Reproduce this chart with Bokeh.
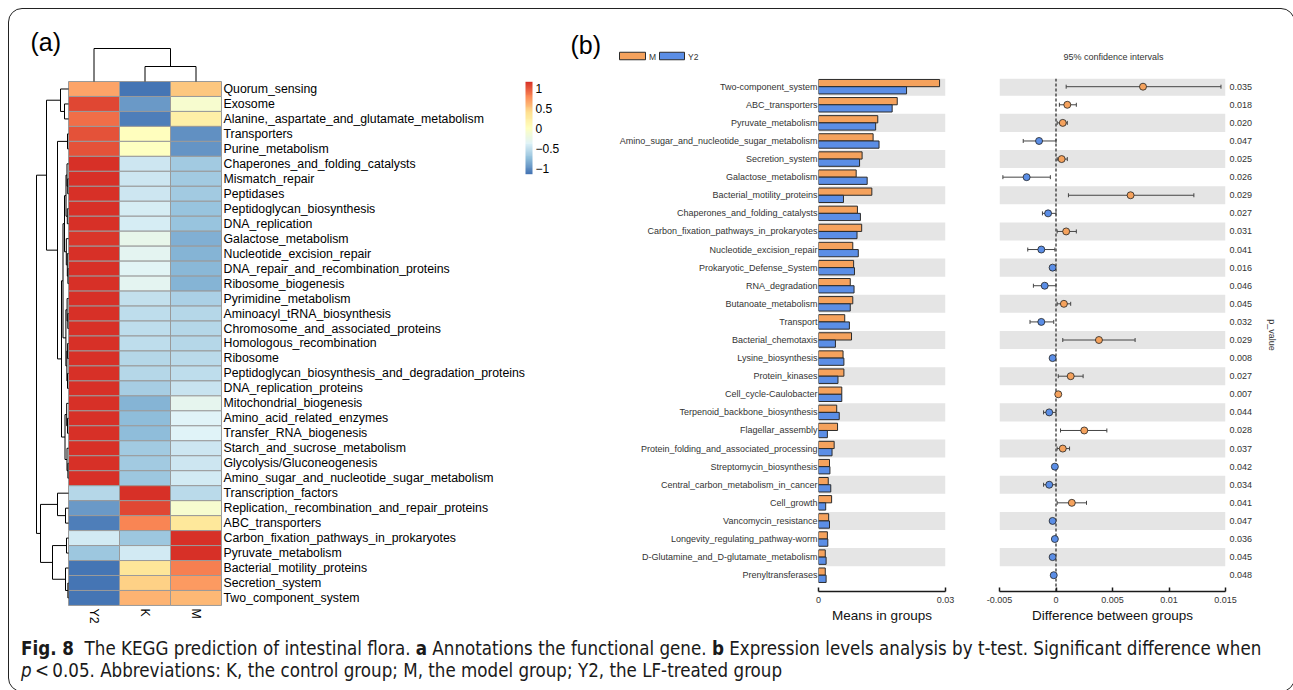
import numpy as np
from bokeh.plotting import figure
from bokeh.models import (Range1d, ColumnDataSource, LinearColorMapper, FixedTicker,
                          NumeralTickFormatter, LinearAxis, Span, Whisker, TeeHead, Div)
from bokeh.transform import dodge
from bokeh.layouts import row, column
from bokeh.core.properties import value
from bokeh.embed import file_html
from bokeh.resources import INLINE

FONT = "Liberation Sans"

# ---------------- panel (a): heatmap data ----------------
heat_rows = ["Quorum_sensing", "Exosome", "Alanine,_aspartate_and_glutamate_metabolism", "Transporters",
             "Purine_metabolism", "Chaperones_and_folding_catalysts", "Mismatch_repair", "Peptidases",
             "Peptidoglycan_biosynthesis", "DNA_replication", "Galactose_metabolism",
             "Nucleotide_excision_repair", "DNA_repair_and_recombination_proteins", "Ribosome_biogenesis",
             "Pyrimidine_metabolism", "Aminoacyl_tRNA_biosynthesis", "Chromosome_and_associated_proteins",
             "Homologous_recombination", "Ribosome", "Peptidoglycan_biosynthesis_and_degradation_proteins",
             "DNA_replication_proteins", "Mitochondrial_biogenesis", "Amino_acid_related_enzymes",
             "Transfer_RNA_biogenesis", "Starch_and_sucrose_metabolism", "Glycolysis/Gluconeogenesis",
             "Amino_sugar_and_nucleotide_sugar_metabolism", "Transcription_factors",
             "Replication,_recombination_and_repair_proteins", "ABC_transporters",
             "Carbon_fixation_pathways_in_prokaryotes", "Pyruvate_metabolism", "Bacterial_motility_proteins",
             "Secretion_system", "Two_component_system"]
heat_cols = ["Y2", "K", "M"]
z_y2 = [0.65, 1.05, 0.90, 1.00, 1.00, 1.15, 1.15, 1.15, 1.15, 1.14, 1.12, 1.15, 1.15, 1.15, 1.15, 1.15,
        1.15, 1.15, 1.15, 1.15, 1.15, 1.14, 1.15, 1.15, 1.15, 1.15, 1.15, -0.58, -0.95, -1.10, -0.45,
        -0.70, -1.15, -1.15, -1.15]
z_k = [-1.15, -0.95, -1.10, 0.00, -0.02, -0.48, -0.48, -0.48, -0.42, -0.42, -0.28, -0.33, -0.35, -0.34,
       -0.52, -0.55, -0.55, -0.55, -0.58, -0.60, -0.66, -0.82, -0.78, -0.77, -0.68, -0.68, -0.70, 1.15,
       1.05, 0.80, -0.70, -0.45, 0.32, 0.45, 0.58]
z_m = [0.50, -0.10, 0.20, -1.00, -0.98, -0.67, -0.67, -0.67, -0.73, -0.72, -0.84, -0.82, -0.80, -0.81,
       -0.63, -0.60, -0.60, -0.60, -0.57, -0.55, -0.49, -0.32, -0.37, -0.38, -0.47, -0.47, -0.45, -0.57,
       -0.10, 0.30, 1.15, 1.15, 0.83, 0.70, 0.57]
colorbar_ticks = [-1, -0.5, 0, 0.5, 1]
colorbar_labels = ["\u22121", "\u22120.5", "0", "0.5", "1"]

# clustering trees: (merge height, left, right); leaves are row / column indices
row_tree = (32,
            (22, (8, 0, (4, 1, 2)),
                 (11, (1.0, 3, 4),
                      (7, (5.5, (4.0, (2.5, (1.5, 5, (0.8, 6, 7)), (1.2, 8, 9)),
                                      (2.2, 10, (1.2, 11, (0.6, 12, 13)))),
                                (2.6, (1.4, 14, (0.7, 15, 16)), (1.6, (0.9, 17, 18), (1.0, 19, 20)))),
                          (3.5, (1.8, 21, (1.0, 22, 23)), (1.5, 24, (0.6, 25, 26)))))),
            (28, (11, 27, (3, 28, 29)),
                 (16, (2, 30, 31), (3, 32, (0.6, 33, 34)))))
col_tree = (33, 0, (15, 1, 2))

# ---------------- panel (b): t-test data ----------------
pathways = ["Two-component_system", "ABC_transporters", "Pyruvate_metabolism",
            "Amino_sugar_and_nucleotide_sugar_metabolism", "Secretion_system", "Galactose_metabolism",
            "Bacterial_motility_proteins", "Chaperones_and_folding_catalysts",
            "Carbon_fixation_pathways_in_prokaryotes", "Nucleotide_excision_repair",
            "Prokaryotic_Defense_System", "RNA_degradation", "Butanoate_metabolism", "Transport",
            "Bacterial_chemotaxis", "Lysine_biosynthesis", "Protein_kinases", "Cell_cycle-Caulobacter",
            "Terpenoid_backbone_biosynthesis", "Flagellar_assembly", "Protein_folding_and_associated_processing",
            "Streptomycin_biosynthesis", "Central_carbon_metabolism_in_cancer", "Cell_growth",
            "Vancomycin_resistance", "Longevity_regulating_pathway-worm", "D-Glutamine_and_D-glutamate_metabolism",
            "Prenyltransferases"]
mean_m = [0.0286, 0.0186, 0.0140, 0.0129, 0.0103, 0.0089, 0.0126, 0.0092, 0.0102, 0.0081, 0.0083, 0.0075,
          0.0081, 0.0062, 0.0078, 0.0058, 0.0060, 0.0055, 0.0043, 0.0045, 0.0037, 0.0026, 0.0023, 0.0031,
          0.0024, 0.0021, 0.0016, 0.0016]
mean_y2 = [0.0208, 0.0174, 0.0135, 0.0143, 0.0097, 0.0115, 0.0059, 0.0099, 0.0091, 0.0094, 0.0085, 0.0084,
           0.0075, 0.0073, 0.0040, 0.0060, 0.0046, 0.0055, 0.0049, 0.0021, 0.0032, 0.0027, 0.0029, 0.0017,
           0.0026, 0.0022, 0.0018, 0.0018]
diff = [0.0077, 0.0010, 0.0006, -0.0015, 0.0005, -0.0026, 0.0066, -0.0007, 0.0009, -0.0013, -0.0003,
        -0.0010, 0.0007, -0.0013, 0.0038, -0.0003, 0.0013, 0.0002, -0.0006, 0.0025, 0.0006, -0.0001,
        -0.0006, 0.0014, -0.0003, -0.0001, -0.0003, -0.0002]
ci_low = [0.0009, 0.0003, 0.0001, -0.0029, 0.0001, -0.0047, 0.0011, -0.0012, 0.0001, -0.0025, -0.0004,
          -0.0020, 0.0001, -0.0023, 0.0006, -0.0004, 0.0002, 0.0000, -0.0011, 0.0004, 0.0001, -0.0002,
          -0.0011, 0.0001, -0.0005, -0.0002, -0.0005, -0.0004]
ci_high = [0.0146, 0.0018, 0.0010, 0.0000, 0.0010, -0.0005, 0.0122, 0.0000, 0.0018, -0.0001, -0.0001,
           0.0000, 0.0013, -0.0002, 0.0070, -0.0001, 0.0024, 0.0003, 0.0000, 0.0045, 0.0012, 0.0000,
           0.0000, 0.0027, -0.0001, 0.0000, -0.0001, 0.0000]
p_values = ["0.035", "0.018", "0.020", "0.047", "0.025", "0.026", "0.029", "0.027", "0.031", "0.041",
            "0.016", "0.046", "0.045", "0.032", "0.029", "0.008", "0.027", "0.007", "0.044", "0.028",
            "0.037", "0.042", "0.034", "0.041", "0.047", "0.036", "0.045", "0.048"]
group_names = ["M", "Y2"]
bar_ticks = [0, 0.03]
ci_ticks = [-0.005, 0, 0.005, 0.01, 0.015]

# ---------------- styles ----------------
ORANGE = "#F5A25D"
BLUE = "#5B8EE6"
EDGE = "#2b2b2b"
STRIPE = "#E5E5E5"
rdylbu7 = ["#4575B4", "#91BFDB", "#E0F3F8", "#FFFFBF", "#FEE090", "#FC8D59", "#D73027"]


def make_palette(stops, n=100):
    rgb = np.array([[int(c[i:i + 2], 16) for i in (1, 3, 5)] for c in stops], dtype=float)
    pos = np.linspace(0, 1, len(stops))
    t = np.linspace(0, 1, n)
    out = []
    for tt in t:
        r = np.interp(tt, pos, rgb[:, 0]); g = np.interp(tt, pos, rgb[:, 1]); b = np.interp(tt, pos, rgb[:, 2])
        out.append("#%02x%02x%02x" % (int(round(r)), int(round(g)), int(round(b))))
    return out


palette = make_palette(rdylbu7)
ZMAX = 1.155
mapper = LinearColorMapper(palette=palette, low=-ZMAX, high=ZMAX)


def bare(p):
    p.grid.visible = False
    p.outline_line_color = None
    p.background_fill_color = None
    p.border_fill_color = None


# ---------------- panel (a) figure ----------------
# page geometry (px) of the panel: x 9..565, y 9..632
CW, RH = 51.0, 14.97          # heatmap cell width / height
HX0, HY0 = 68.0, 81.0         # heatmap top-left corner
AX0, AX1, AY0, AY1 = 9.0, 565.0, 9.0, 632.0
fa = figure(width=int(AX1 - AX0), height=int(AY1 - AY0),
            x_range=Range1d((AX0 - HX0) / CW, (AX1 - HX0) / CW),
            y_range=Range1d((AY1 - HY0) / RH - 0.5, (AY0 - HY0) / RH - 0.5),
            x_axis_location=None, y_axis_location=None, min_border=0,
            output_backend="svg", toolbar_location=None)
bare(fa)
fa.extra_x_ranges = {"dl": Range1d(HX0 - AX0, HX0 - AX1)}
fa.extra_y_ranges = {"dt": Range1d(HY0 - AY1, HY0 - AY0),
                     "cb": Range1d((127.5 - AY1) / 40.0, (127.5 - AY0) / 40.0)}

hx, hy, hz = [], [], []
for ci_, vals in enumerate([z_y2, z_k, z_m]):
    for ri, v in enumerate(vals):
        hx.append(ci_ + 0.5); hy.append(ri); hz.append(v)
fa.rect(x="x", y="y", width=1, height=1, source=ColumnDataSource(dict(x=hx, y=hy, z=hz)),
        fill_color={"field": "z", "transform": mapper}, line_color="#9a9a9a", line_width=1)

fa.text(x=[3] * len(heat_rows), y=list(range(len(heat_rows))), text=heat_rows, x_offset=2,
        text_font=value(FONT), text_font_size="12.3px", text_baseline="middle", text_align="left",
        text_color="#000000")
fa.text(x=[0.5, 1.5, 2.5], y=[len(heat_rows) - 0.5] * 3, text=heat_cols, angle=-np.pi / 2, y_offset=3,
        text_font=value(FONT), text_font_size="12.3px", text_baseline="middle", text_align="left",
        text_color="#000000")


def dendro(node, segs):
    if isinstance(node, int):
        return float(node), 0.0
    h, a, b = node
    pa, ha = dendro(a, segs)
    pb, hb = dendro(b, segs)
    segs.append((ha, pa, h, pa))
    segs.append((hb, pb, h, pb))
    segs.append((h, pa, h, pb))
    return (pa + pb) / 2.0, h


rs = []
dendro(row_tree, rs)
fa.segment(x0=[s[0] for s in rs], y0=[s[1] for s in rs], x1=[s[2] for s in rs], y1=[s[3] for s in rs],
           x_range_name="dl", line_color="#000000", line_width=1)
cs = []
dendro(col_tree, cs)
fa.segment(x0=[s[1] + 0.5 for s in cs], y0=[s[0] for s in cs], x1=[s[3] + 0.5 for s in cs],
           y1=[s[2] for s in cs], y_range_name="dt", line_color="#000000", line_width=1)

grad = np.linspace(-ZMAX, ZMAX, 200).reshape(200, 1)
fa.image(image=[grad], x=(525 - HX0) / CW, y=-ZMAX, dw=7.0 / CW, dh=2 * ZMAX, color_mapper=mapper,
         y_range_name="cb")
fa.text(x=[(532 - HX0) / CW] * 5, y=colorbar_ticks, text=colorbar_labels, x_offset=3, y_range_name="cb",
        text_font=value(FONT), text_font_size="12px", text_baseline="middle", text_align="left",
        text_color="#000000")
fa.text(x=[(30 - HX0) / CW], y=[(41 - HY0) / RH - 0.5], text=["(a)"], text_font=value(FONT),
        text_font_size="25px", text_baseline="middle", text_align="left", text_color="#000000")

# ---------------- panel (b) header ----------------
fh = figure(width=719, height=61, x_range=Range1d(565, 1284), y_range=Range1d(70, 9),
            x_axis_location=None, y_axis_location=None, min_border=0,
            output_backend="svg", toolbar_location=None)
bare(fh)
fh.text(x=[570], y=[44], text=["(b)"], text_font=value(FONT), text_font_size="25px",
        text_baseline="middle", text_align="left", text_color="#000000")
fh.rect(x=[632, 671.5], y=[55.5, 55.5], width=[26, 25], height=[7.5, 7.5], fill_color=[ORANGE, BLUE],
        line_color=EDGE, line_width=1)
fh.text(x=[648.5, 687.5], y=[56, 56], text=group_names, text_font=value(FONT), text_font_size="8.5px",
        text_baseline="middle", text_align="left", text_color="#333333")
fh.text(x=[1113], y=[56], text=["95% confidence intervals"], text_font=value(FONT), text_font_size="9px",
        text_baseline="middle", text_align="center", text_color="#333333")

# ---------------- panel (b) bars ----------------
NR = len(pathways)
rows_idx = list(range(NR))
YR = (27.90, -0.453)
stripe_rows = [r for r in rows_idx if r % 2 == 0]

fb = figure(width=395, height=562, x_range=Range1d(0, 0.03), y_range=Range1d(*YR),
            min_border_left=253, min_border_right=15, min_border_top=8, min_border_bottom=41,
            output_backend="svg", toolbar_location=None)
bare(fb)
fb.hbar(y=stripe_rows, left=0, right=0.03, height=1, fill_color=STRIPE, line_color=None, level="underlay")
bsrc = ColumnDataSource(dict(row=rows_idx, m=mean_m, y2=mean_y2))
fb.hbar(y=dodge("row", -0.2, range=fb.y_range), left=0, right="m", height=0.4, source=bsrc,
        fill_color=ORANGE, line_color=EDGE, line_width=1)
fb.hbar(y=dodge("row", 0.2, range=fb.y_range), left=0, right="y2", height=0.4, source=bsrc,
        fill_color=BLUE, line_color=EDGE, line_width=1)
ya = fb.yaxis[0]
ya.ticker = FixedTicker(ticks=rows_idx)
ya.major_label_overrides = {i: n for i, n in enumerate(pathways)}
ya.axis_line_color = None
ya.major_tick_line_color = None
ya.minor_tick_line_color = None
ya.major_tick_out = 0
ya.major_tick_in = 0
ya.minor_tick_out = 0
ya.major_label_standoff = 1
ya.major_label_text_font = FONT
ya.major_label_text_font_size = "9px"
ya.major_label_text_color = "#333333"


def style_x(ax, ticks, label):
    ax.ticker = FixedTicker(ticks=ticks)
    ax.formatter = NumeralTickFormatter(format="0.[000]")
    ax.major_tick_in = 4
    ax.major_tick_out = 0
    ax.minor_tick_line_color = None
    ax.minor_tick_out = 0
    ax.axis_line_width = 1.5
    ax.axis_line_color = "#1a1a1a"
    ax.major_tick_line_width = 1.5
    ax.major_tick_line_color = "#1a1a1a"
    ax.major_label_text_font = FONT
    ax.major_label_text_font_size = "9px"
    ax.major_label_text_color = "#333333"
    ax.major_label_standoff = 5
    ax.axis_label = label
    ax.axis_label_text_font = FONT
    ax.axis_label_text_font_size = "13.5px"
    ax.axis_label_text_font_style = "normal"
    ax.axis_label_text_color = "#111111"
    ax.axis_label_standoff = 2


style_x(fb.xaxis[0], bar_ticks, "Means in groups")

# ---------------- panel (b) confidence intervals ----------------
fc = figure(width=324, height=562, x_range=Range1d(-0.005, 0.015), y_range=Range1d(*YR),
            min_border_left=39, min_border_right=59, min_border_top=8, min_border_bottom=41,
            y_axis_location=None, output_backend="svg", toolbar_location=None)
bare(fc)
fc.hbar(y=stripe_rows, left=-0.005, right=0.015, height=1, fill_color=STRIPE, line_color=None,
        level="underlay")
csrc = ColumnDataSource(dict(row=rows_idx, d=diff, lo=ci_low, hi=ci_high,
                             col=[ORANGE if v > 0 else BLUE for v in diff]))
fc.add_layout(Span(location=0, dimension="height", line_color="#222222", line_dash="3 2", line_width=1.2,
                   level="underlay"))
fc.add_layout(Whisker(source=csrc, base="row", lower="lo", upper="hi", dimension="width",
                      line_color="#444444", line_width=1, level="underlay",
                      lower_head=TeeHead(size=4, line_color="#444444", line_width=1),
                      upper_head=TeeHead(size=4, line_color="#444444", line_width=1)))
fc.scatter(x="d", y="row", source=csrc, size=7, fill_color="col", line_color="#222222", line_width=0.8)
style_x(fc.xaxis[0], ci_ticks, "Difference between groups")
ra = LinearAxis(ticker=FixedTicker(ticks=rows_idx))
ra.major_label_overrides = {i: p for i, p in enumerate(p_values)}
ra.axis_line_color = None
ra.major_tick_line_color = None
ra.minor_tick_line_color = None
ra.major_tick_out = 0
ra.major_tick_in = 0
ra.minor_tick_out = 0
ra.major_label_standoff = 4
ra.major_label_text_font = FONT
ra.major_label_text_font_size = "9px"
ra.major_label_text_color = "#333333"
ra.axis_label = "p_value"
ra.axis_label_text_font = FONT
ra.axis_label_text_font_size = "9px"
ra.axis_label_text_font_style = "normal"
ra.axis_label_text_color = "#333333"
ra.axis_label_standoff = 12
fc.add_layout(ra, "right")

# ---------------- caption ----------------
cap_html = ('<div style="font-family:\'Liberation Sans Narrow\',\'DejaVu Sans Condensed\',\'Liberation Sans\',sans-serif;'
            'font-size:18.6px;line-height:22px;color:#1a1a1a;padding-left:7px;padding-top:1px;white-space:nowrap;">'
            '<b>Fig.&nbsp;8</b>&nbsp; The KEGG prediction of intestinal flora. <b>a</b> Annotations the functional gene. '
            '<b>b</b> Expression levels analysis by t-test. Significant difference when<br>'
            '<i>p</i>&thinsp;&lt;&thinsp;0.05. Abbreviations: K, the control group; M, the model group; Y2, the LF-treated group'
            '</div>')
caption = Div(text=cap_html, width=1275, height=49)

panel_b = column(fh, row(fb, fc))
top = row(fa, panel_b)
layout = column(top, caption, margin=(8, 0, 0, 8),
                styles={"border": "1px solid #222222", "border-radius": "14px"})

open("out.html", "w").write(file_html(layout, INLINE))
